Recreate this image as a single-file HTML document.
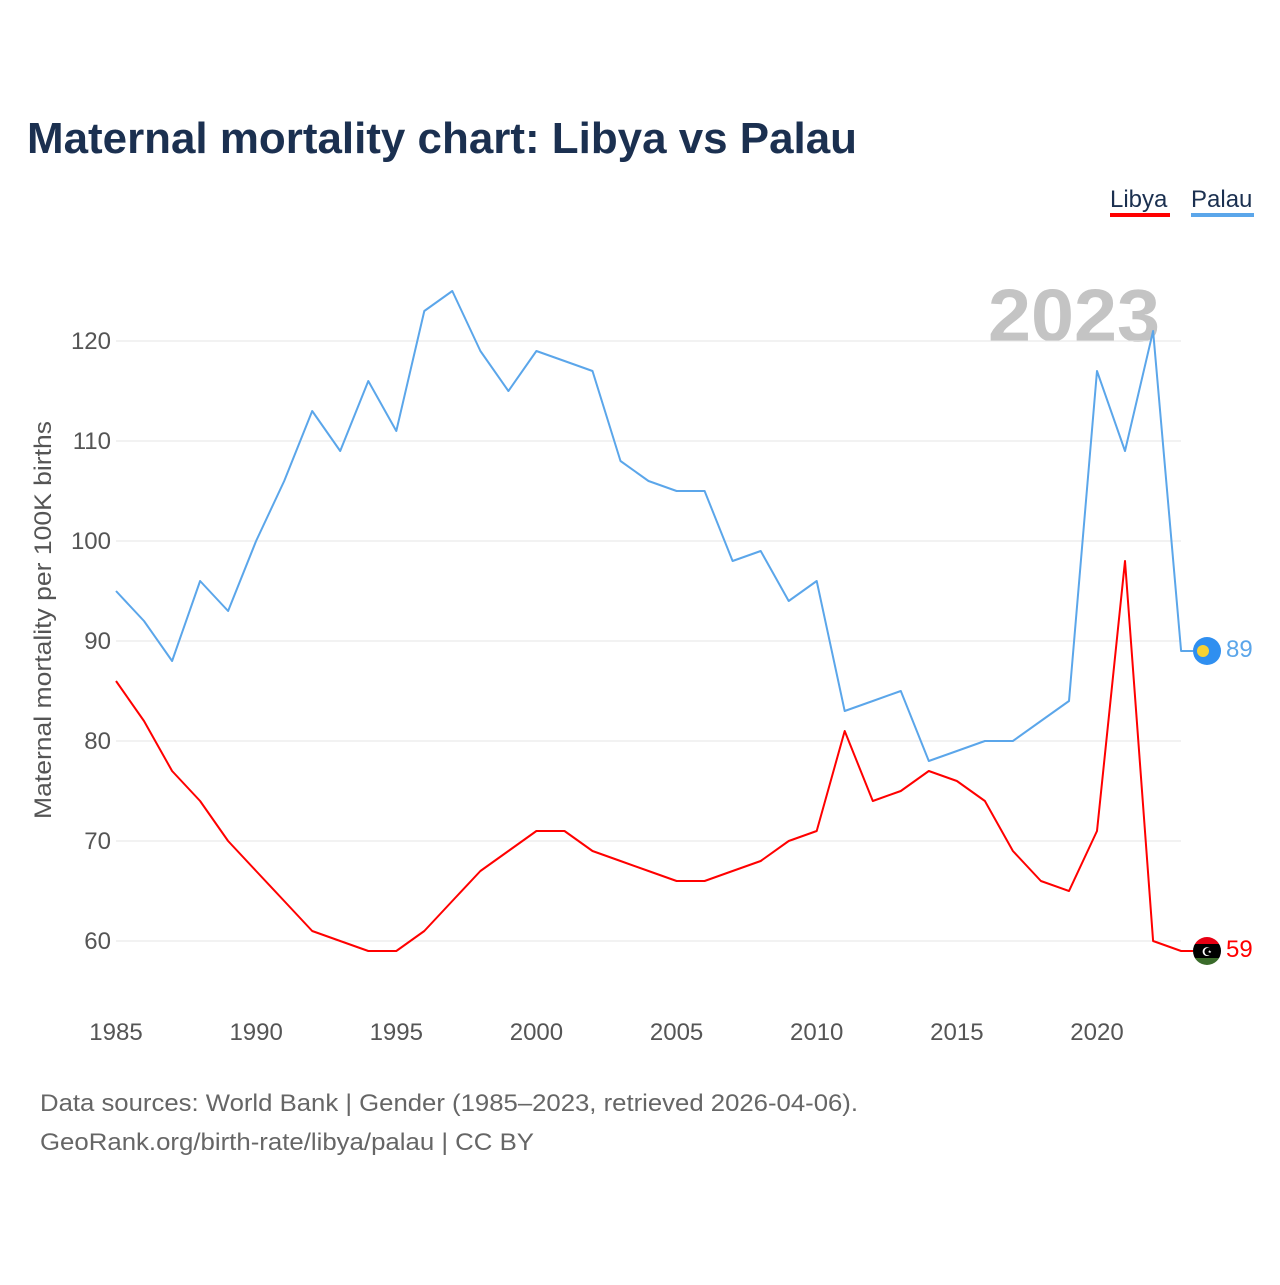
<!DOCTYPE html>
<html><head><meta charset="utf-8"><style>
body{margin:0;background:#fff;font-family:"Liberation Sans",sans-serif;}
svg text{font-family:"Liberation Sans",sans-serif;}
</style></head><body>
<svg width="1280" height="1280" viewBox="0 0 1280 1280" xmlns="http://www.w3.org/2000/svg">
<text x="27" y="153" font-size="44" font-weight="bold" fill="#1b3050" textLength="830" lengthAdjust="spacingAndGlyphs">Maternal mortality chart: Libya vs Palau</text>
<g>
<text x="1110" y="207" font-size="24" fill="#1b3050">Libya</text>
<rect x="1110" y="213" width="60" height="4" fill="#ff0000"/>
<text x="1191" y="207" font-size="24" fill="#1b3050">Palau</text>
<rect x="1191" y="213" width="63" height="4" fill="#5ba6ea"/>
</g>
<text x="1160" y="341" font-size="74" font-weight="bold" fill="#c4c4c4" text-anchor="end" textLength="172" lengthAdjust="spacingAndGlyphs">2023</text>
<g id="grid"></g>
<g id="yt"></g>
<g id="xt"></g>
<text transform="translate(51,620) rotate(-90)" font-size="24" fill="#555" text-anchor="middle" textLength="398" lengthAdjust="spacingAndGlyphs">Maternal mortality per 100K births</text>
<g id="series"></g>
<g>
<circle cx="1207" cy="651" r="14" fill="#2f8ff0"/><circle cx="1203" cy="651" r="6" fill="#f8d131"/></g>
<g>
<clipPath id="lc"><circle cx="1207" cy="951" r="14"/></clipPath>
<g clip-path="url(#lc)"><rect x="1190" y="936" width="34" height="8" fill="#e70013"/><rect x="1190" y="944" width="34" height="14" fill="#000"/><rect x="1190" y="958" width="34" height="10" fill="#3a6b2a"/></g>
<text x="1207" y="956" font-size="12" fill="#fff" text-anchor="middle">☪</text></g>
<text x="1226" y="657" font-size="24" fill="#5ba6ea">89</text>
<text x="1226" y="957" font-size="24" fill="#ff0000">59</text>
<text x="40" y="1111" font-size="24" fill="#666" textLength="818" lengthAdjust="spacingAndGlyphs">Data sources: World Bank | Gender (1985–2023, retrieved 2026-04-06).</text>
<text x="40" y="1150" font-size="24" fill="#666" textLength="494" lengthAdjust="spacingAndGlyphs">GeoRank.org/birth-rate/libya/palau | CC BY</text>
</svg>
<script>
const years=[1985,1986,1987,1988,1989,1990,1991,1992,1993,1994,1995,1996,1997,1998,1999,2000,2001,2002,2003,2004,2005,2006,2007,2008,2009,2010,2011,2012,2013,2014,2015,2016,2017,2018,2019,2020,2021,2022,2023];
const palau=[95,92,88,96,93,100,106,113,109,116,111,123,125,119,115,119,118,117,108,106,105,105,98,99,94,96,83,84,85,78,79,80,80,82,84,117,109,121,89];
const libya=[86,82,77,74,70,67,64,61,60,59,59,61,64,67,69,71,71,69,68,67,66,66,67,68,70,71,81,74,75,77,76,74,69,66,65,71,98,60,59];
const yTicks=[60,70,80,90,100,110,120];
const xTicks=[1985,1990,1995,2000,2005,2010,2015,2020];
const NS="http://www.w3.org/2000/svg";
const xs=y=>116+(y-1985)*(1097-116)/35;
const ys=v=>941-(v-60)*10;
function mk(t,a,p){const e=document.createElementNS(NS,t);for(const k in a)e.setAttribute(k,a[k]);p.appendChild(e);return e;}
const grid=document.getElementById('grid'),yt=document.getElementById('yt'),xt=document.getElementById('xt'),ser=document.getElementById('series');
yTicks.forEach(v=>{
 const l=mk('line',{x1:116,x2:1181,y1:ys(v),y2:ys(v),stroke:'#e6e6e6','stroke-width':1},grid);
 
 
 const t=mk('text',{x:111,y:ys(v)+8,'font-size':24,fill:'#555','text-anchor':'end'},yt);
 t.textContent=v;
 
 
});
xTicks.forEach(y=>{
 const t=mk('text',{x:xs(y),y:1040,'font-size':24,fill:'#555','text-anchor':'middle'},xt);
 t.textContent=y;
 
 
});
function line(vals,col,name){
 let d=vals.map((v,i)=>(i?'L':'M')+xs(years[i]).toFixed(1)+','+ys(v)).join(' ');
 d+=' L1193,'+ys(vals[vals.length-1]);
 const p=mk('path',{d:d,fill:'none',stroke:col,'stroke-width':2,'stroke-linejoin':'round'},ser);
 
 
}
line(palau,'#5ba6ea','palau-line');
line(libya,'#ff0000','libya-line');
</script>
</body></html>
